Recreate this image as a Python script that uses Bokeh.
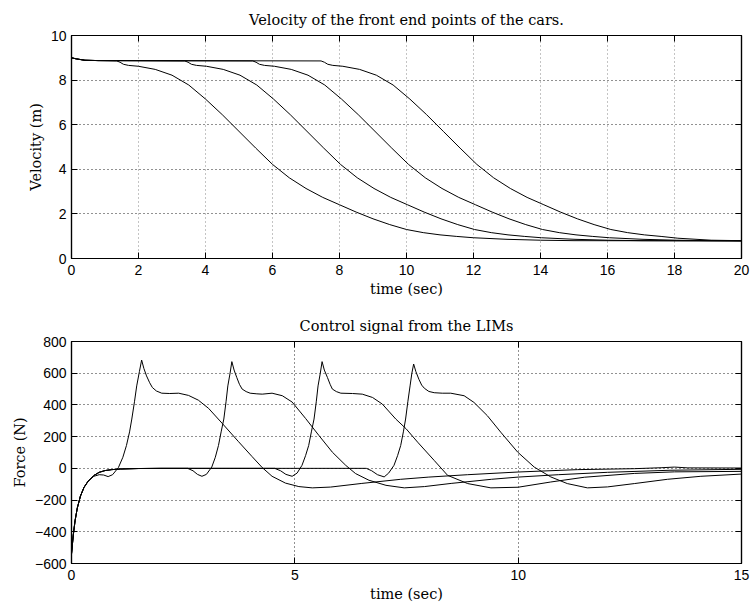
from bokeh.plotting import figure
from bokeh.models import LinearAxis, FixedTicker, Range1d
from bokeh.layouts import column
from bokeh.embed import file_html
from bokeh.resources import INLINE

# ---------------- data: velocity (top) ----------------
vel_title = "Velocity of the front end points of the cars."
vel_xlabel = "time (sec)"
vel_ylabel = "Velocity (m)"
vel_xticks = [0, 2, 4, 6, 8, 10, 12, 14, 16, 18, 20]
vel_yticks = [0, 2, 4, 6, 8, 10]

t_v1 = [0, 0.15, 0.4, 0.8, 1.35, 1.45, 1.55, 1.7, 2.0, 2.5, 3.0, 3.5, 4.0, 4.5, 5.0, 5.5, 6.0, 6.5, 7.0, 7.5, 8.0, 8.5, 9.0, 9.5, 10.0, 10.5, 11.0, 11.5, 12.0, 13.0, 14.0, 15.0, 20.0]
v1 = [9.0, 8.95, 8.89, 8.875, 8.86, 8.8, 8.71, 8.66, 8.62, 8.48, 8.22, 7.78, 7.15, 6.45, 5.7, 4.95, 4.22, 3.62, 3.14, 2.74, 2.41, 2.08, 1.78, 1.52, 1.30, 1.16, 1.06, 0.99, 0.93, 0.86, 0.82, 0.80, 0.79]

t_v2 = [0, 0.15, 0.4, 0.8, 3.38, 3.48, 3.58, 3.73, 4.03, 4.53, 5.03, 5.53, 6.03, 6.53, 7.03, 7.53, 8.03, 8.53, 9.03, 9.53, 10.03, 10.53, 11.03, 11.53, 12.03, 12.53, 13.03, 13.53, 14.03, 15.03, 16.03, 17.03, 20.0]
v2 = [9.0, 8.95, 8.89, 8.875, 8.86, 8.8, 8.71, 8.66, 8.62, 8.48, 8.22, 7.78, 7.15, 6.45, 5.7, 4.95, 4.22, 3.62, 3.14, 2.74, 2.41, 2.08, 1.78, 1.52, 1.30, 1.16, 1.06, 0.99, 0.93, 0.86, 0.82, 0.80, 0.79]

t_v3 = [0, 0.15, 0.4, 0.8, 5.41, 5.51, 5.61, 5.76, 6.06, 6.56, 7.06, 7.56, 8.06, 8.56, 9.06, 9.56, 10.06, 10.56, 11.06, 11.56, 12.06, 12.56, 13.06, 13.56, 14.06, 14.56, 15.06, 15.56, 16.06, 17.06, 18.06, 19.06, 20.0]
v3 = [9.0, 8.95, 8.89, 8.875, 8.86, 8.8, 8.71, 8.66, 8.62, 8.48, 8.22, 7.78, 7.15, 6.45, 5.7, 4.95, 4.22, 3.62, 3.14, 2.74, 2.41, 2.08, 1.78, 1.52, 1.30, 1.16, 1.06, 0.99, 0.93, 0.86, 0.82, 0.80, 0.79]

t_v4 = [0, 0.15, 0.4, 0.8, 7.45, 7.55, 7.65, 7.8, 8.1, 8.6, 9.1, 9.6, 10.1, 10.6, 11.1, 11.6, 12.1, 12.6, 13.1, 13.6, 14.1, 14.6, 15.1, 15.6, 16.1, 16.6, 17.1, 17.6, 18.1, 19.1, 20.0]
v4 = [9.0, 8.95, 8.89, 8.875, 8.86, 8.8, 8.71, 8.66, 8.62, 8.48, 8.22, 7.78, 7.15, 6.45, 5.7, 4.95, 4.22, 3.62, 3.14, 2.74, 2.41, 2.08, 1.78, 1.52, 1.30, 1.16, 1.06, 0.99, 0.91, 0.82, 0.80]

# ---------------- data: force (bottom) ----------------
force_title = "Control signal from the LIMs"
force_xlabel = "time (sec)"
force_ylabel = "Force (N)"
force_xticks = [0, 5, 10, 15]
force_yticks = [-600, -400, -200, 0, 200, 400, 600, 800]
force_ytick_labels = {-600: "\u2212600", -400: "\u2212400", -200: "\u2212200", 0: "0",
                      200: "200", 400: "400", 600: "600", 800: "800"}

t_f1 = [0, 0.04, 0.08, 0.13, 0.2, 0.28, 0.37, 0.5, 0.62, 0.72, 0.82, 0.92, 1.05, 1.15, 1.23, 1.3, 1.35, 1.41, 1.46, 1.52, 1.57, 1.62, 1.68, 1.75, 1.81, 1.9, 2.02, 2.2, 2.4, 2.62, 2.84, 3.07, 3.37, 3.74, 4.04, 4.27, 4.49, 4.79, 5.09, 5.39, 5.8, 6.5, 7.37, 8.0, 8.87, 10.0, 11.33, 12.6, 13.2, 13.5, 13.8, 15.0]
f1 = [-540, -420, -330, -250, -175, -120, -82, -50, -40, -42, -52, -40, 5, 70, 144, 230, 311, 420, 520, 610, 683, 630, 583, 540, 510, 488, 474, 472, 474, 460, 430, 378, 285, 168, 75, 5, -50, -93, -115, -123, -118, -95, -69, -55, -40, -23, -8, -2, 4, 8, 3, 2]

t_f2 = [0, 0.04, 0.08, 0.13, 0.2, 0.28, 0.37, 0.5, 0.62, 0.75, 0.9, 1.1, 1.5, 2.0, 2.6, 2.72, 2.82, 2.92, 3.02, 3.14, 3.22, 3.29, 3.35, 3.41, 3.46, 3.5, 3.55, 3.59, 3.64, 3.7, 3.76, 3.82, 3.91, 4.0, 4.15, 4.27, 4.49, 4.72, 4.94, 5.24, 5.54, 5.84, 6.14, 6.36, 6.66, 7.04, 7.45, 7.9, 8.5, 9.4, 10.0, 10.9, 12.0, 13.4, 15.0]
f2 = [-540, -420, -330, -250, -175, -120, -82, -45, -25, -14, -8, -4, -1, 0, 0, -15, -38, -50, -38, 8, 70, 144, 230, 311, 420, 520, 600, 673, 620, 573, 530, 500, 484, 474, 470, 468, 474, 458, 418, 315, 207, 102, 19, -33, -75, -107, -123, -115, -95, -69, -55, -40, -25, -12, -6]

t_f3 = [0, 0.04, 0.08, 0.13, 0.2, 0.28, 0.37, 0.5, 0.62, 0.75, 0.9, 1.1, 1.5, 2.0, 4.55, 4.68, 4.8, 4.94, 5.05, 5.16, 5.24, 5.31, 5.37, 5.43, 5.48, 5.52, 5.57, 5.61, 5.66, 5.73, 5.79, 5.84, 5.93, 6.03, 6.29, 6.51, 6.74, 6.96, 7.26, 7.49, 7.75, 8.12, 8.42, 8.87, 9.39, 10.0, 10.73, 11.48, 12.6, 13.5, 15.0]
f3 = [-540, -420, -330, -250, -175, -120, -82, -45, -25, -14, -8, -4, -1, 0, 0, -15, -38, -50, -30, 19, 80, 144, 230, 311, 420, 520, 600, 673, 620, 573, 530, 500, 484, 474, 472, 468, 447, 405, 311, 250, 165, 50, -44, -96, -123, -119, -86, -56, -32, -22, -19]

t_f4 = [0, 0.04, 0.08, 0.13, 0.2, 0.28, 0.37, 0.5, 0.62, 0.75, 0.9, 1.1, 1.5, 2.0, 6.6, 6.72, 6.85, 7.0, 7.1, 7.22, 7.3, 7.37, 7.43, 7.48, 7.53, 7.58, 7.62, 7.66, 7.71, 7.78, 7.84, 7.9, 8.0, 8.12, 8.3, 8.49, 8.79, 9.01, 9.31, 9.61, 9.99, 10.36, 10.73, 11.1, 11.55, 12.0, 12.6, 13.34, 14.09, 15.0]
f4 = [-540, -420, -330, -250, -175, -120, -82, -45, -25, -14, -8, -4, -1, 0, 0, -15, -40, -54, -30, 19, 80, 144, 230, 311, 420, 520, 600, 658, 610, 560, 525, 505, 485, 477, 474, 474, 458, 416, 332, 228, 102, 8, -54, -96, -123, -117, -96, -69, -50, -36]

SERIF = "DejaVu Serif"
SANS = "Liberation Sans"


def style(p, xticks, yticks, title, xlabel, ylabel, ylab_over=None):
    p.title.text = title
    p.title.align = "center"
    p.title.text_font = SERIF
    p.title.text_font_size = "14.5px"
    p.title.text_font_style = "normal"
    p.title.text_color = "black"
    p.title.offset = 0
    p.title.standoff = 15

    p.outline_line_color = "black"
    p.outline_line_width = 1.2
    p.background_fill_color = "white"
    p.border_fill_color = "white"

    for ax in (p.xaxis[0], p.yaxis[0]):
        ax.major_tick_in = 6
        ax.major_tick_out = 0
        ax.minor_tick_in = 0
        ax.minor_tick_out = 0
        ax.axis_line_color = "black"
        ax.axis_line_width = 1.2
        ax.major_tick_line_color = "black"
        ax.major_label_text_font = SANS
        ax.major_label_text_font_size = "14px"
        ax.major_label_text_color = "black"
        ax.axis_label_text_font = SERIF
        ax.axis_label_text_font_size = "14.5px"
        ax.axis_label_text_font_style = "normal"
        ax.axis_label_text_color = "black"
    p.xaxis[0].ticker = FixedTicker(ticks=xticks)
    p.yaxis[0].ticker = FixedTicker(ticks=yticks)
    p.xaxis[0].axis_label = xlabel
    p.yaxis[0].axis_label = ylabel
    p.xaxis[0].major_label_standoff = 6
    p.xaxis[0].axis_label_standoff = 3
    p.yaxis[0].major_label_standoff = 5
    p.yaxis[0].axis_label_standoff = 4
    if ylab_over:
        p.yaxis[0].major_label_overrides = ylab_over

    for loc, tk in (("right", yticks), ("above", xticks)):
        ax = LinearAxis(ticker=FixedTicker(ticks=tk))
        ax.major_tick_in = 6
        ax.major_tick_out = 0
        ax.minor_tick_in = 0
        ax.minor_tick_out = 0
        ax.major_label_overrides = {t: "" for t in tk}
        ax.major_label_text_font_size = "1px"
        ax.major_label_standoff = 0
        ax.axis_line_color = "black"
        ax.axis_line_width = 1.2
        p.add_layout(ax, loc)

    p.xgrid.ticker = FixedTicker(ticks=xticks)
    p.ygrid.ticker = FixedTicker(ticks=yticks)
    for g in (p.xgrid[0], p.ygrid[0]):
        g.grid_line_color = "#222222"
        g.grid_line_dash = "1 3"
        g.grid_line_width = 1


p1 = figure(width=750, height=305, x_range=Range1d(0, 20), y_range=Range1d(0, 10),
            output_backend="svg", toolbar_location=None,
            min_border_left=71, min_border_right=9, min_border_top=35, min_border_bottom=47)
style(p1, vel_xticks, vel_yticks, vel_title, vel_xlabel, vel_ylabel)
p1.xgrid[0].grid_line_color = "#888888"
for tt, vv in ((t_v1, v1), (t_v2, v2), (t_v3, v3), (t_v4, v4)):
    p1.line(tt, vv, line_color="black", line_width=1)

p2 = figure(width=750, height=302, x_range=Range1d(0, 15), y_range=Range1d(-600, 800),
            output_backend="svg", toolbar_location=None,
            min_border_left=71, min_border_right=9, min_border_top=36, min_border_bottom=44)
style(p2, force_xticks, force_yticks, force_title, force_xlabel, force_ylabel, force_ytick_labels)
for tt, ff in ((t_f1, f1), (t_f2, f2), (t_f3, f3), (t_f4, f4)):
    p2.line(tt, ff, line_color="black", line_width=1)

layout = column(p1, p2, spacing=0)
open("out.html", "w").write(file_html(layout, INLINE))
